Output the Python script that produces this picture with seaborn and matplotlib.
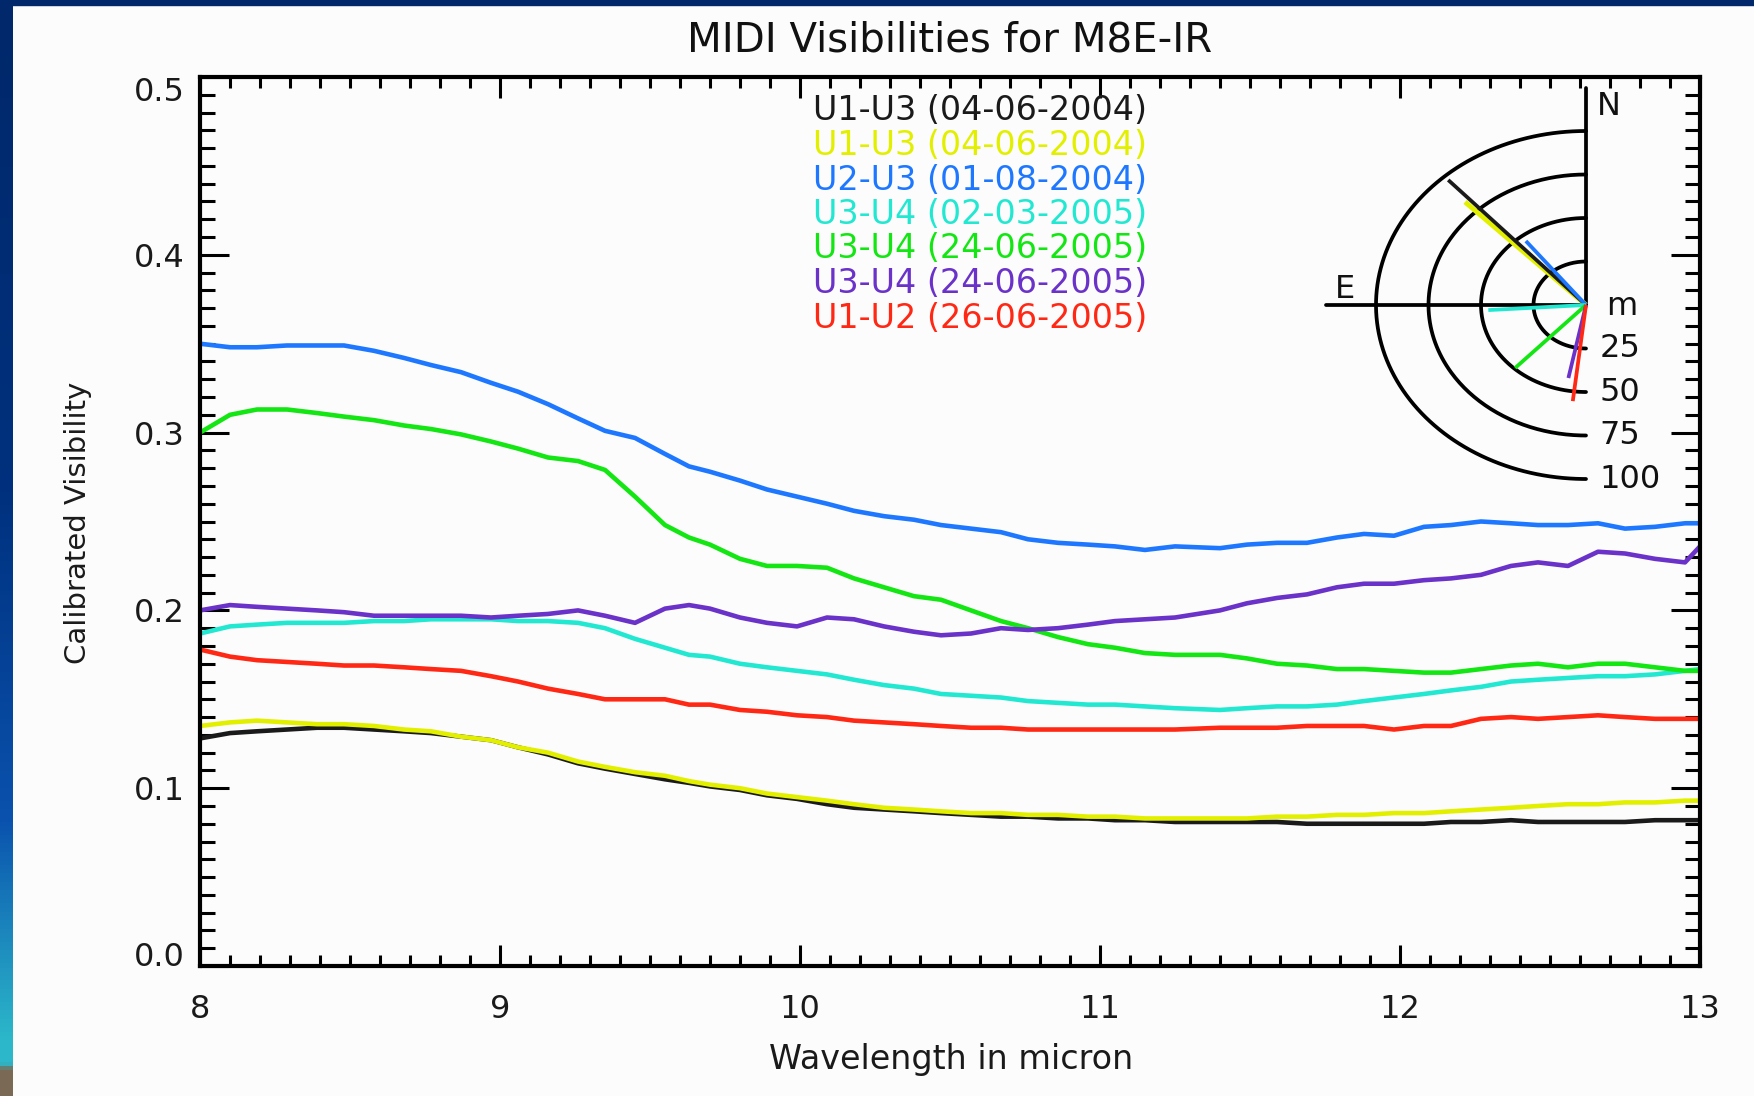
import numpy as np
import pandas as pd
import matplotlib
matplotlib.use("Agg")
import matplotlib.pyplot as plt
import seaborn as sns
from matplotlib.ticker import MultipleLocator, FormatStrFormatter
from matplotlib.colors import LinearSegmentedColormap
from matplotlib.patches import Rectangle

# --- данные ---
wavelength = [8.00, 8.10, 8.19, 8.29, 8.39, 8.48, 8.58, 8.68, 8.77, 8.87, 8.97, 9.06,
              9.16, 9.26, 9.35, 9.45, 9.55, 9.63, 9.70, 9.80, 9.89, 9.99, 10.09, 10.18,
              10.28, 10.38, 10.47, 10.57, 10.67, 10.76, 10.86, 10.96, 11.05, 11.15, 11.25,
              11.40, 11.49, 11.59, 11.69, 11.79, 11.88, 11.98, 12.08, 12.17, 12.27, 12.37,
              12.46, 12.56, 12.66, 12.75, 12.85, 12.95, 13.00]

vis_u1u3_a = [0.128, 0.131, 0.132, 0.133, 0.134, 0.134, 0.133, 0.132, 0.131, 0.129, 0.127, 0.123,
              0.119, 0.114, 0.111, 0.108, 0.105, 0.103, 0.101, 0.099, 0.096, 0.094, 0.091, 0.089,
              0.088, 0.087, 0.086, 0.085, 0.084, 0.084, 0.083, 0.083, 0.082, 0.082, 0.081,
              0.081, 0.081, 0.081, 0.080, 0.080, 0.080, 0.080, 0.080, 0.081, 0.081, 0.082,
              0.081, 0.081, 0.081, 0.081, 0.082, 0.082, 0.082]
vis_u1u3_b = [0.135, 0.137, 0.138, 0.137, 0.136, 0.136, 0.135, 0.133, 0.132, 0.129, 0.127, 0.123,
              0.120, 0.115, 0.112, 0.109, 0.107, 0.104, 0.102, 0.100, 0.097, 0.095, 0.093, 0.091,
              0.089, 0.088, 0.087, 0.086, 0.086, 0.085, 0.085, 0.084, 0.084, 0.083, 0.083,
              0.083, 0.083, 0.084, 0.084, 0.085, 0.085, 0.086, 0.086, 0.087, 0.088, 0.089,
              0.090, 0.091, 0.091, 0.092, 0.092, 0.093, 0.093]
vis_u2u3 = [0.350, 0.348, 0.348, 0.349, 0.349, 0.349, 0.346, 0.342, 0.338, 0.334, 0.328, 0.323,
            0.316, 0.308, 0.301, 0.297, 0.288, 0.281, 0.278, 0.273, 0.268, 0.264, 0.260, 0.256,
            0.253, 0.251, 0.248, 0.246, 0.244, 0.240, 0.238, 0.237, 0.236, 0.234, 0.236,
            0.235, 0.237, 0.238, 0.238, 0.241, 0.243, 0.242, 0.247, 0.248, 0.250, 0.249,
            0.248, 0.248, 0.249, 0.246, 0.247, 0.249, 0.249]
vis_u3u4_mar = [0.187, 0.191, 0.192, 0.193, 0.193, 0.193, 0.194, 0.194, 0.195, 0.195, 0.195, 0.194,
                0.194, 0.193, 0.190, 0.184, 0.179, 0.175, 0.174, 0.170, 0.168, 0.166, 0.164, 0.161,
                0.158, 0.156, 0.153, 0.152, 0.151, 0.149, 0.148, 0.147, 0.147, 0.146, 0.145,
                0.144, 0.145, 0.146, 0.146, 0.147, 0.149, 0.151, 0.153, 0.155, 0.157, 0.160,
                0.161, 0.162, 0.163, 0.163, 0.164, 0.166, 0.167]
vis_u3u4_jun_a = [0.300, 0.310, 0.313, 0.313, 0.311, 0.309, 0.307, 0.304, 0.302, 0.299, 0.295, 0.291,
                  0.286, 0.284, 0.279, 0.264, 0.248, 0.241, 0.237, 0.229, 0.225, 0.225, 0.224, 0.218,
                  0.213, 0.208, 0.206, 0.200, 0.194, 0.190, 0.185, 0.181, 0.179, 0.176, 0.175,
                  0.175, 0.173, 0.170, 0.169, 0.167, 0.167, 0.166, 0.165, 0.165, 0.167, 0.169,
                  0.170, 0.168, 0.170, 0.170, 0.168, 0.166, 0.166]
vis_u3u4_jun_b = [0.200, 0.203, 0.202, 0.201, 0.200, 0.199, 0.197, 0.197, 0.197, 0.197, 0.196, 0.197,
                  0.198, 0.200, 0.197, 0.193, 0.201, 0.203, 0.201, 0.196, 0.193, 0.191, 0.196, 0.195,
                  0.191, 0.188, 0.186, 0.187, 0.190, 0.189, 0.190, 0.192, 0.194, 0.195, 0.196,
                  0.200, 0.204, 0.207, 0.209, 0.213, 0.215, 0.215, 0.217, 0.218, 0.220, 0.225,
                  0.227, 0.225, 0.233, 0.232, 0.229, 0.227, 0.236]
vis_u1u2 = [0.178, 0.174, 0.172, 0.171, 0.170, 0.169, 0.169, 0.168, 0.167, 0.166, 0.163, 0.160,
            0.156, 0.153, 0.150, 0.150, 0.150, 0.147, 0.147, 0.144, 0.143, 0.141, 0.140, 0.138,
            0.137, 0.136, 0.135, 0.134, 0.134, 0.133, 0.133, 0.133, 0.133, 0.133, 0.133,
            0.134, 0.134, 0.134, 0.135, 0.135, 0.135, 0.133, 0.135, 0.135, 0.139, 0.140,
            0.139, 0.140, 0.141, 0.140, 0.139, 0.139, 0.139]

series_labels = ["U1-U3 (04-06-2004)", "U1-U3 (04-06-2004)", "U2-U3 (01-08-2004)",
                 "U3-U4 (02-03-2005)", "U3-U4 (24-06-2005)", "U3-U4 (24-06-2005)",
                 "U1-U2 (26-06-2005)"]
series_colors = ["#1a1a1a", "#e2f000", "#1e78ff", "#22e8d2", "#14e614", "#6a32c8", "#ff2814"]
series_values = [vis_u1u3_a, vis_u1u3_b, vis_u2u3, vis_u3u4_mar,
                 vis_u3u4_jun_a, vis_u3u4_jun_b, vis_u1u2]

x_ticks = [8, 9, 10, 11, 12, 13]
y_ticks = [0.0, 0.1, 0.2, 0.3, 0.4, 0.5]

# проекции баз (м) и позиционные углы (град, от N к E)
baseline_length = [97.3, 82.6, 46.6, 46.6, 49.5, 42.8, 55.6]
baseline_pa = [42.4, 44.2, 37.9, 93.6, 137.0, 168.7, 173.5]
ring_radii = [25, 50, 75, 100]

# --- длинная таблица для seaborn ---
keys = [f"s{i}" for i in range(len(series_labels))]
frames = []
for key, vals in zip(keys, series_values):
    frames.append(pd.DataFrame({"wavelength": wavelength, "visibility": vals, "series": key}))
df = pd.concat(frames, ignore_index=True)

sns.set_style("ticks")
plt.rcParams["font.family"] = ["DejaVu Sans"]

W, H = 1754, 1096
fig = plt.figure(figsize=(W / 100, H / 100), dpi=100, facecolor="#fcfcfc")

# рамка слайда: синяя полоса слева и сверху
strip = fig.add_axes([0, 0, 13 / W, 1])
cmap = LinearSegmentedColormap.from_list(
    "strip", [(0, "#00286a"), (0.45, "#00317e"), (0.75, "#0a52ae"),
              (0.95, "#2cb8ca"), (0.972, "#2cb8ca"), (0.978, "#7a6a55"), (1, "#7a6a55")])
strip.imshow(np.linspace(0, 1, 256).reshape(-1, 1), aspect="auto", cmap=cmap,
             extent=[0, 1, 1, 0])
strip.set_axis_off()
fig.patches.append(Rectangle((0, 1 - 5 / H), 1, 5 / H, transform=fig.transFigure,
                             color="#00286a", zorder=5))

ax = fig.add_axes([200 / W, (H - 966) / H, 1500 / W, 889 / H])
ax.set_facecolor("#fcfcfc")
sns.lineplot(data=df, x="wavelength", y="visibility", hue="series", hue_order=keys,
             palette=dict(zip(keys, series_colors)), linewidth=3.3, legend=False,
             estimator=None, sort=False, ax=ax)

ax.set_xlim(8, 13)
ax.set_ylim(0, 0.5)
ax.set_xticks(x_ticks)
ax.set_yticks(y_ticks)
ax.xaxis.set_minor_locator(MultipleLocator(0.1))
ax.yaxis.set_minor_locator(MultipleLocator(0.01))
ax.yaxis.set_major_formatter(FormatStrFormatter("%.1f"))
for side in ax.spines.values():
    side.set_linewidth(3)
    side.set_color("black")
ax.tick_params(which="both", direction="in", top=True, right=True, width=2.2, colors="black",
               labelcolor="#1a1a1a", labelsize=23)
ax.tick_params(axis="x", which="major", length=15, pad=20)
ax.tick_params(axis="x", which="minor", length=8)
ax.tick_params(axis="y", which="major", length=21, pad=11)
ax.tick_params(axis="y", which="minor", length=11)

# крайние подписи оси Y сдвинуты внутрь, как в оригинале
yt = ax.yaxis.get_major_ticks()
yt[0].label1.set_va("baseline")
yt[-1].label1.set_va("top")

ax.set_xlabel("Wavelength in micron", fontsize=24, color="#1a1a1a", va="center")
ax.xaxis.set_label_coords(0.5009, (966 - 1059) / 889)
ax.set_ylabel("Calibrated Visibility", fontsize=21, color="#1a1a1a", va="center")
ax.yaxis.set_label_coords((78 - 200) / 1500, (966 - 523) / 889)
ax.set_title("MIDI Visibilities for M8E-IR", fontsize=29, color="#111111",
             y=(966 - 41) / 889, va="center", pad=0)

# подписи серий
for i, (lab, col) in enumerate(zip(series_labels, series_colors)):
    ax.text((813 - 200) / 1500, (966 - (111 + 34.5 * i)) / 889, lab, color=col,
            fontsize=24, ha="left", va="center", transform=ax.transAxes)

# --- схема баз (u,v) ---
ins = fig.add_axes([(1586 - 130 * 2.1) / W, (H - (305 + 130 * 1.74)) / H,
                    160 * 2.1 / W, 260 * 1.74 / H])
ins.set_xlim(-130, 30)
ins.set_ylim(-130, 130)
ins.set_axis_off()
ins.patch.set_alpha(0)

theta = np.radians(np.linspace(0, 180, 200))
for r in ring_radii:
    ins.plot(-r * np.sin(theta), r * np.cos(theta), color="black", lw=2.7)
    ins.text(6.5, -r, str(r), fontsize=23, ha="left", va="center", color="#111111")
ins.plot([0, 0], [0, 125], color="black", lw=2.7)
ins.plot([0, -124], [0, 0], color="black", lw=2.7)
ins.text(5, 114, "N", fontsize=23, ha="left", va="center", color="#111111")
ins.text(-115, 9, "E", fontsize=23, ha="center", va="center", color="#111111")
ins.text(9.5, -1, "m", fontsize=23, ha="left", va="center", color="#111111")

order = [1, 0, 2, 3, 4, 5, 6]
for i in order:
    pa = np.radians(baseline_pa[i])
    L = baseline_length[i]
    ins.plot([0, -L * np.sin(pa)], [0, L * np.cos(pa)], color=series_colors[i],
             lw=3.6 if i == 1 else 2.7, solid_capstyle="butt")

fig.savefig("out.png", dpi=100, facecolor=fig.get_facecolor())
